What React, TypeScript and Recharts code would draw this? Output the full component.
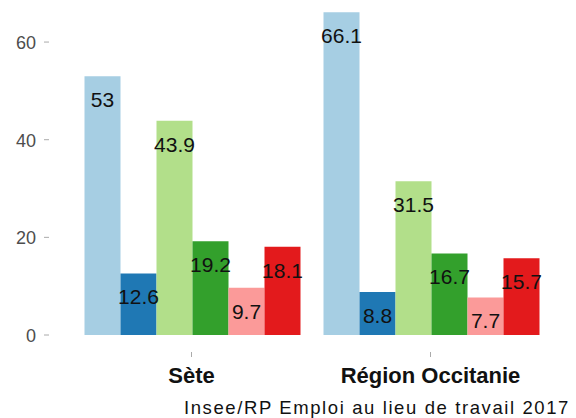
import { BarChart, Bar, XAxis, YAxis, LabelList } from "recharts";

const categories = ["Sète", "Région Occitanie"];
const serie1 = [53, 66.1];
const serie2 = [12.6, 8.8];
const serie3 = [43.9, 31.5];
const serie4 = [19.2, 16.7];
const serie5 = [9.7, 7.7];
const serie6 = [18.1, 15.7];
const yTicks = [0, 20, 40, 60];
const caption = "Insee/RP Emploi au lieu de travail 2017";

const seriesKeys = ["s1", "s2", "s3", "s4", "s5", "s6"];
const colors = ["#a6cee3", "#1f78b4", "#b2df8a", "#33a02c", "#fb9a99", "#e31a1c"];
const allSeries = [serie1, serie2, serie3, serie4, serie5, serie6];

const data = categories.map((name, i) => {
  const row: Record<string, string | number> = { name };
  seriesKeys.forEach((k, j) => {
    row[k] = allSeries[j][i];
  });
  return row;
});

const FONT = "'Liberation Sans', Arial, sans-serif";

function YTick(props: any) {
  const { x, y, payload } = props;
  return (
    <text x={x} y={y + 7} textAnchor="end" fontSize={18} fill="#4d4d4d" fontFamily={FONT}>
      {payload.value}
    </text>
  );
}

function XTick(props: any) {
  const { x, payload } = props;
  return (
    <text x={x} y={383} textAnchor="middle" fontSize={22} fontWeight="bold" fill="#111" fontFamily={FONT}>
      {payload.value}
    </text>
  );
}

function BarLabel(props: any) {
  const { x, y, width, value } = props;
  return (
    <text x={x + width / 2} y={y + 31} textAnchor="middle" fontSize={21} fill="#111" fontFamily={FONT}>
      {value}
    </text>
  );
}

export default function App() {
  return (
    <div style={{ position: "absolute", left: 0, top: 0, width: 576, height: 418, background: "#fff" }}>
      <BarChart
        width={576}
        height={418}
        data={data}
        margin={{ top: 3, right: 2, left: 0, bottom: 0 }}
        barCategoryGap={12.5}
        barGap={0}
      >
        <XAxis
          dataKey="name"
          padding={{ left: 23, right: 24 }}
          axisLine={false}
          tickLine={{ stroke: "#aaa" }}
          tickSize={5}
          height={66}
          tick={<XTick />}
        />
        <YAxis
          width={49}
          domain={[-3.48, 68]}
          ticks={yTicks}
          axisLine={false}
          tickLine={{ stroke: "#aaa" }}
          tickSize={5}
          tickMargin={8}
          tick={<YTick />}
        />
        {seriesKeys.map((k, j) => (
          <Bar key={k} dataKey={k} fill={colors[j]} isAnimationActive={false}>
            <LabelList dataKey={k} content={<BarLabel />} />
          </Bar>
        ))}
      </BarChart>
      <div
        style={{
          position: "absolute",
          right: 6,
          top: 399,
          fontSize: 18.5,
          lineHeight: 1,
          letterSpacing: 1.6,
          fontFamily: FONT,
          color: "#111",
          whiteSpace: "nowrap",
        }}
      >
        {caption}
      </div>
    </div>
  );
}
